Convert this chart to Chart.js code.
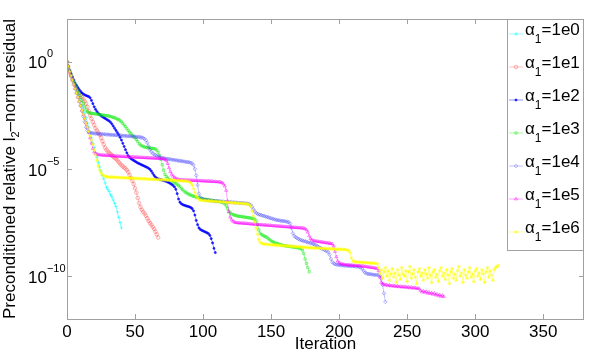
<!DOCTYPE html>
<html><head><meta charset="utf-8">
<script src="https://cdn.jsdelivr.net/npm/chart.js@4/dist/chart.umd.min.js"></script>
<style>html,body{margin:0;padding:0;background:#fff}#wrap{width:598px;height:355px;position:relative}</style>
</head><body><div id="wrap"><canvas id="c" width="598" height="355"></canvas></div>
<script>
// ---- data (values stored as log10 of the residual, one per iteration) ----
const iterationTicks = [0, 50, 100, 150, 200, 250, 300, 350];
const yTickValues = [1, 1e-5, 1e-10];
const yTickExponents = ['0', '\u22125', '\u221210'];
const seriesNames = ['1e0', '1e1', '1e2', '1e3', '1e4', '1e5', '1e6'];

const log10_a1e0 = [0,-0.2,-0.45,-0.65,-0.85,-1,-1.2,-1.35,-1.5,-1.7,-1.85,-2.05,-2.2,-2.4,-2.6,-2.85,-3.05,-3.3,-3.55,-3.8,-4,-4.25,-4.45,-4.7,-4.9,-5.1,-5.3,-5.45,-5.65,-5.85,-5.95,-6.05,-6.2,-6.3,-6.45,-6.6,-6.75,-7,-7.25,-7.5,-7.75];

const log10_a1e1 = [0,-0.35,-0.5,-0.65,-0.8,-0.95,-1.1,-1.2,-1.3,-1.45,-1.55,-1.65,-1.75,-1.85,-1.95,-2.1,-2.3,-2.5,-2.65,-2.8,-2.95,-3.1,-3.2,-3.3,-3.4,-3.55,-3.7,-3.85,-4,-4.1,-4.18,-4.25,-4.3,-4.36,-4.42,-4.48,-4.53,-4.6,-4.68,-4.75,-4.82,-4.88,-4.93,-4.98,-5.05,-5.15,-5.28,-5.42,-5.55,-5.7,-5.9,-6.1,-6.35,-6.6,-6.78,-6.9,-7,-7.08,-7.18,-7.3,-7.42,-7.52,-7.6,-7.7,-7.8,-7.92,-8.05,-8.2];

const log10_a1e2 = [0,-0.2,-0.4,-0.55,-0.7,-0.85,-1,-1.1,-1.2,-1.3,-1.38,-1.45,-1.5,-1.54,-1.57,-1.6,-1.62,-1.68,-1.8,-1.95,-2.1,-2.22,-2.32,-2.4,-2.46,-2.52,-2.56,-2.6,-2.64,-2.68,-2.72,-2.76,-2.82,-2.9,-3,-3.1,-3.2,-3.3,-3.4,-3.52,-3.65,-3.8,-3.95,-4.1,-4.25,-4.38,-4.46,-4.52,-4.56,-4.6,-4.64,-4.68,-4.72,-4.75,-4.78,-4.81,-4.84,-4.87,-4.9,-4.93,-4.97,-5.02,-5.1,-5.2,-5.3,-5.38,-5.43,-5.46,-5.48,-5.5,-5.52,-5.54,-5.56,-5.58,-5.61,-5.64,-5.68,-5.72,-5.77,-5.84,-5.95,-6.15,-6.4,-6.55,-6.62,-6.66,-6.69,-6.71,-6.73,-6.75,-6.77,-6.8,-6.85,-6.95,-7.15,-7.4,-7.6,-7.75,-7.82,-7.86,-7.89,-7.92,-7.95,-7.98,-8.02,-8.1,-8.25,-8.45,-8.7,-8.9];

const log10_a1e3 = [0,-0.2,-0.4,-0.6,-0.75,-0.9,-1.05,-1.2,-1.35,-1.5,-1.65,-1.8,-1.95,-2.1,-2.25,-2.33,-2.37,-2.39,-2.4,-2.41,-2.42,-2.43,-2.44,-2.45,-2.46,-2.47,-2.48,-2.49,-2.5,-2.51,-2.52,-2.53,-2.55,-2.57,-2.59,-2.61,-2.64,-2.67,-2.7,-2.74,-2.8,-2.87,-2.95,-3.03,-3.12,-3.2,-3.28,-3.35,-3.42,-3.48,-3.55,-3.63,-3.72,-3.82,-3.88,-3.92,-3.95,-3.97,-3.99,-4,-4.01,-4.02,-4.03,-4.04,-4.05,-4.07,-4.12,-4.22,-4.38,-4.55,-4.8,-5.05,-5.25,-5.35,-5.42,-5.48,-5.52,-5.56,-5.6,-5.64,-5.68,-5.72,-5.77,-5.83,-5.9,-5.97,-6.03,-6.08,-6.12,-6.16,-6.19,-6.22,-6.25,-6.27,-6.29,-6.31,-6.33,-6.35,-6.37,-6.39,-6.4,-6.41,-6.42,-6.43,-6.44,-6.45,-6.46,-6.47,-6.48,-6.49,-6.5,-6.51,-6.52,-6.53,-6.55,-6.58,-6.63,-6.72,-6.85,-6.97,-7.05,-7.1,-7.13,-7.15,-7.17,-7.19,-7.2,-7.21,-7.22,-7.23,-7.24,-7.25,-7.26,-7.27,-7.28,-7.29,-7.3,-7.32,-7.35,-7.42,-7.6,-7.85,-8,-8.06,-8.1,-8.13,-8.16,-8.2,-8.25,-8.3,-8.35,-8.39,-8.42,-8.45,-8.47,-8.49,-8.51,-8.53,-8.55,-8.57,-8.58,-8.59,-8.6,-8.61,-8.62,-8.63,-8.64,-8.65,-8.66,-8.67,-8.68,-8.7,-8.72,-8.78,-8.95,-9.2,-9.4,-9.6,-9.8];

const log10_a1e4 = [0,-0.2,-0.45,-0.65,-0.85,-1.05,-1.25,-1.45,-1.65,-1.85,-2.05,-2.3,-2.55,-2.8,-3.05,-3.2,-3.27,-3.3,-3.32,-3.33,-3.34,-3.35,-3.35,-3.36,-3.36,-3.37,-3.37,-3.38,-3.38,-3.39,-3.39,-3.4,-3.4,-3.41,-3.41,-3.42,-3.42,-3.43,-3.43,-3.44,-3.44,-3.45,-3.45,-3.46,-3.46,-3.47,-3.47,-3.48,-3.48,-3.49,-3.49,-3.5,-3.5,-3.51,-3.52,-3.53,-3.55,-3.59,-3.66,-3.78,-3.95,-4.1,-4.2,-4.27,-4.32,-4.36,-4.39,-4.42,-4.44,-4.46,-4.48,-4.5,-4.51,-4.52,-4.53,-4.54,-4.55,-4.56,-4.57,-4.58,-4.59,-4.6,-4.61,-4.62,-4.63,-4.64,-4.65,-4.66,-4.67,-4.68,-4.69,-4.71,-4.74,-4.82,-5,-5.3,-5.75,-6.15,-6.32,-6.38,-6.41,-6.43,-6.44,-6.45,-6.46,-6.47,-6.48,-6.48,-6.49,-6.49,-6.5,-6.5,-6.51,-6.51,-6.52,-6.52,-6.53,-6.53,-6.54,-6.54,-6.55,-6.55,-6.56,-6.56,-6.57,-6.57,-6.58,-6.58,-6.59,-6.59,-6.6,-6.6,-6.61,-6.62,-6.64,-6.68,-6.76,-6.88,-6.98,-7.05,-7.09,-7.12,-7.14,-7.16,-7.18,-7.2,-7.22,-7.24,-7.26,-7.28,-7.3,-7.32,-7.34,-7.36,-7.38,-7.39,-7.4,-7.41,-7.42,-7.43,-7.44,-7.45,-7.46,-7.48,-7.55,-7.75,-8,-8.12,-8.18,-8.22,-8.26,-8.29,-8.32,-8.34,-8.36,-8.38,-8.4,-8.42,-8.44,-8.46,-8.48,-8.5,-8.53,-8.56,-8.6,-8.64,-8.68,-8.71,-8.74,-8.77,-8.8,-8.83,-8.88,-9,-9.2,-9.35,-9.41,-9.44,-9.46,-9.47,-9.48,-9.49,-9.5,-9.5,-9.51,-9.51,-9.52,-9.52,-9.53,-9.53,-9.54,-9.54,-9.55,-9.55,-9.56,-9.57,-9.6,-9.66,-9.75,-9.83,-9.87,-9.89,-9.9,-9.91,-9.92,-9.93,-9.94,-9.94,-9.95,-9.96,-9.98,-10.1,-10.4,-10.8,-11.2];

const log10_a1e5 = [0,-0.2,-0.45,-0.65,-0.85,-1.05,-1.25,-1.45,-1.65,-1.85,-2.05,-2.25,-2.45,-2.65,-2.85,-3.05,-3.3,-3.55,-3.8,-4.05,-4.2,-4.28,-4.31,-4.33,-4.34,-4.35,-4.35,-4.36,-4.36,-4.37,-4.37,-4.38,-4.38,-4.39,-4.39,-4.4,-4.4,-4.4,-4.41,-4.41,-4.42,-4.42,-4.42,-4.43,-4.43,-4.43,-4.44,-4.44,-4.44,-4.45,-4.45,-4.45,-4.46,-4.46,-4.46,-4.47,-4.47,-4.47,-4.48,-4.48,-4.48,-4.49,-4.49,-4.49,-4.5,-4.5,-4.5,-4.51,-4.51,-4.52,-4.52,-4.53,-4.55,-4.6,-4.75,-4.95,-5.12,-5.25,-5.34,-5.4,-5.44,-5.47,-5.49,-5.5,-5.5,-5.51,-5.51,-5.52,-5.52,-5.52,-5.53,-5.53,-5.53,-5.54,-5.54,-5.54,-5.55,-5.55,-5.55,-5.56,-5.56,-5.56,-5.57,-5.57,-5.57,-5.58,-5.58,-5.58,-5.59,-5.59,-5.6,-5.6,-5.61,-5.62,-5.64,-5.7,-5.8,-6,-6.5,-7,-7.25,-7.38,-7.44,-7.48,-7.5,-7.51,-7.52,-7.52,-7.53,-7.53,-7.54,-7.54,-7.55,-7.55,-7.56,-7.57,-7.57,-7.58,-7.58,-7.59,-7.59,-7.6,-7.6,-7.61,-7.61,-7.62,-7.62,-7.63,-7.63,-7.64,-7.64,-7.65,-7.65,-7.66,-7.66,-7.67,-7.67,-7.68,-7.68,-7.69,-7.69,-7.7,-7.7,-7.71,-7.71,-7.72,-7.72,-7.73,-7.73,-7.74,-7.74,-7.75,-7.75,-7.76,-7.77,-7.79,-7.84,-7.95,-8.12,-8.25,-8.31,-8.34,-8.36,-8.37,-8.38,-8.39,-8.4,-8.41,-8.42,-8.43,-8.44,-8.45,-8.46,-8.47,-8.48,-8.5,-8.6,-8.85,-9.1,-9.3,-9.38,-9.42,-9.44,-9.45,-9.46,-9.47,-9.48,-9.48,-9.49,-9.49,-9.5,-9.5,-9.51,-9.51,-9.52,-9.52,-9.53,-9.53,-9.54,-9.55,-9.56,-9.57,-9.58,-9.59,-9.6,-9.61,-9.62,-9.63,-9.65,-9.75,-10.05,-10.3,-10.36,-10.38,-10.42,-10.4,-10.45,-10.42,-10.46,-10.44,-10.47,-10.45,-10.49,-10.46,-10.5,-10.48,-10.51,-10.49,-10.52,-10.5,-10.53,-10.51,-10.55,-10.52,-10.56,-10.54,-10.55,-10.58,-10.56,-10.6,-10.68,-10.74,-10.7,-10.76,-10.72,-10.8,-10.75,-10.82,-10.78,-10.85,-10.8,-10.88,-10.84,-10.92,-10.87,-10.95,-10.9,-10.96];

const log10_a1e6 = [0,-0.2,-0.45,-0.65,-0.85,-1.05,-1.25,-1.45,-1.65,-1.85,-2.05,-2.25,-2.45,-2.65,-2.85,-3.05,-3.25,-3.45,-3.65,-3.85,-4.1,-4.35,-4.6,-4.85,-5.05,-5.18,-5.26,-5.31,-5.34,-5.36,-5.37,-5.37,-5.38,-5.38,-5.38,-5.39,-5.39,-5.39,-5.4,-5.4,-5.4,-5.41,-5.41,-5.41,-5.42,-5.42,-5.42,-5.43,-5.43,-5.43,-5.44,-5.44,-5.44,-5.45,-5.45,-5.45,-5.46,-5.46,-5.46,-5.47,-5.47,-5.47,-5.48,-5.48,-5.48,-5.49,-5.49,-5.49,-5.5,-5.5,-5.5,-5.51,-5.51,-5.51,-5.52,-5.52,-5.52,-5.53,-5.53,-5.53,-5.54,-5.54,-5.54,-5.55,-5.55,-5.55,-5.56,-5.56,-5.57,-5.58,-5.6,-5.65,-5.75,-5.92,-6.1,-6.25,-6.36,-6.42,-6.45,-6.46,-6.47,-6.47,-6.48,-6.48,-6.49,-6.49,-6.5,-6.5,-6.51,-6.51,-6.52,-6.52,-6.53,-6.53,-6.54,-6.54,-6.55,-6.55,-6.56,-6.56,-6.57,-6.57,-6.58,-6.58,-6.59,-6.59,-6.6,-6.6,-6.61,-6.61,-6.62,-6.62,-6.63,-6.64,-6.67,-6.75,-6.95,-7.2,-7.45,-7.75,-8.05,-8.3,-8.42,-8.47,-8.49,-8.5,-8.51,-8.52,-8.52,-8.53,-8.53,-8.54,-8.54,-8.55,-8.55,-8.56,-8.56,-8.57,-8.57,-8.58,-8.58,-8.59,-8.59,-8.6,-8.6,-8.61,-8.61,-8.62,-8.62,-8.63,-8.63,-8.64,-8.64,-8.65,-8.65,-8.66,-8.66,-8.67,-8.67,-8.68,-8.68,-8.68,-8.69,-8.69,-8.69,-8.7,-8.7,-8.7,-8.71,-8.71,-8.71,-8.72,-8.72,-8.72,-8.73,-8.73,-8.73,-8.74,-8.74,-8.74,-8.75,-8.75,-8.75,-8.76,-8.76,-8.77,-8.78,-8.8,-8.9,-9.15,-9.28,-9.32,-9.33,-9.34,-9.34,-9.35,-9.35,-9.36,-9.36,-9.37,-9.37,-9.38,-9.38,-9.39,-9.39,-9.4,-9.4,-9.41,-9.42,-9.6,-9.9,-9.7,-10.1,-9.8,-9.6,-10,-9.75,-10.2,-9.9,-9.65,-10.05,-9.85,-10.3,-9.7,-9.95,-10.15,-9.6,-9.9,-10,-9.75,-10.25,-9.8,-9.55,-10.1,-9.9,-9.7,-10.05,-10.35,-9.8,-9.65,-10,-9.85,-10.2,-9.7,-9.9,-10.1,-9.6,-9.95,-10.3,-9.8,-9.7,-10.05,-9.9,-10.25,-9.75,-9.6,-10,-9.85,-10.15,-9.7,-9.95,-10.35,-9.8,-9.65,-10.1,-9.9,-10.2,-9.75,-9.55,-10,-9.85,-10.3,-9.7,-9.95,-10.1,-9.8,-9.6,-10.05,-9.9,-10.25,-9.75,-9.65,-10,-9.85,-10.15,-9.7,-9.9,-10.3,-9.8,-9.6,-10.05,-9.75,-9.95,-10.2,-9.7,-9.6,-9.55,-9.5];

const seriesLog10 = [log10_a1e0, log10_a1e1, log10_a1e2, log10_a1e3, log10_a1e4, log10_a1e5, log10_a1e6];

// ---- styles ----
const colors = ['rgba(0,255,255,0.85)', 'rgba(255,70,70,0.7)', 'rgba(0,0,255,0.85)', 'rgba(0,235,0,0.75)', 'rgba(50,50,255,0.6)', 'rgba(255,0,255,0.75)', 'rgba(255,255,0,0.85)'];
const markers = ['cross', 'circle', 'circle', 'rect', 'rectRot', 'triangle', 'star'];
const markerRadius = [1.8, 1.8, 1.1, 1.6, 1.8, 1.8, 1.8];
const FONT = '"Liberation Sans", Arial, Helvetica, sans-serif';

const datasets = seriesLog10.map((arr, i) => ({
  label: '\u03b1\u2081=' + seriesNames[i],
  data: arr.map((v, k) => ({ x: k, y: Math.pow(10, v) })),
  borderColor: colors[i],
  backgroundColor: i === 2 ? colors[i] : 'rgba(0,0,0,0)',
  pointBorderColor: colors[i],
  pointBackgroundColor: i === 2 ? colors[i] : 'rgba(0,0,0,0)',
  borderWidth: 0.5,
  pointBorderWidth: 0.6,
  pointStyle: markers[i],
  pointRadius: markerRadius[i],
  showLine: true,
  tension: 0,
  order: 6 - i
}));

const decor = {
  id: 'decor',
  afterDatasetsDraw(chart) {
    const { ctx, chartArea: a, scales } = chart;
    const xs = scales.x, ys = scales.y;
    ctx.save();
    ctx.strokeStyle = '#a0a0a0';
    ctx.lineWidth = 1;
    ctx.strokeRect(a.left + 0.5, a.top + 0.5, a.right - a.left - 1, a.bottom - a.top);
    ctx.beginPath();
    iterationTicks.forEach(t => {
      const px = Math.round(xs.getPixelForValue(t)) + 0.5;
      ctx.moveTo(px, a.bottom); ctx.lineTo(px, a.bottom - 5);
      ctx.moveTo(px, a.top); ctx.lineTo(px, a.top + 5);
    });
    yTickValues.forEach(v => {
      const py = Math.round(ys.getPixelForValue(v)) + 0.5;
      ctx.moveTo(a.left, py); ctx.lineTo(a.left + 5, py);
      ctx.moveTo(a.right, py); ctx.lineTo(a.right - 5, py);
    });
    ctx.stroke();
    ctx.fillStyle = '#000';
    ctx.textBaseline = 'alphabetic';
    ctx.textAlign = 'left';
    yTickValues.forEach((v, i) => {
      const py = ys.getPixelForValue(v);
      ctx.font = '17px ' + FONT;
      ctx.fillText('10', 28, py + 6.5);
      const w = ctx.measureText('10').width;
      ctx.font = '11px ' + FONT;
      ctx.fillText(yTickExponents[i], 28 + w, py - 4.5);
    });
    const p1 = 'Preconditioned relative l', sub = '2', p2 = '\u2013norm residual';
    ctx.font = '17px ' + FONT;
    const w1 = ctx.measureText(p1).width, w2 = ctx.measureText(p2).width;
    ctx.font = '11px ' + FONT;
    const ws = ctx.measureText(sub).width;
    const total = w1 + ws + w2;
    ctx.translate(15, (a.top + a.bottom) / 2);
    ctx.rotate(-Math.PI / 2);
    let x0 = -total / 2;
    ctx.font = '17px ' + FONT;
    ctx.fillText(p1, x0, 0);
    ctx.font = '11px ' + FONT;
    ctx.fillText(sub, x0 + w1, 4);
    ctx.font = '17px ' + FONT;
    ctx.fillText(p2, x0 + w1 + ws, 0);
    ctx.restore();
  },
  afterDraw(chart) {
    const { ctx, chartArea: a } = chart;
    ctx.save();
    const L = 507, T = a.top, R = a.right, B = 250;
    ctx.fillStyle = '#fff';
    ctx.fillRect(L, T, R - L, B - T);
    ctx.strokeStyle = '#a0a0a0';
    ctx.lineWidth = 1;
    ctx.strokeRect(L + 0.5, T + 0.5, R - L - 1, B - T);
    seriesNames.forEach((n, i) => {
      const cy = T + 11 + 33 * i;
      ctx.strokeStyle = colors[i];
      ctx.lineWidth = 0.5;
      ctx.beginPath(); ctx.moveTo(509, cy + 4); ctx.lineTo(523, cy + 4); ctx.stroke();
      ctx.fillStyle = i === 2 ? colors[i] : 'rgba(0,0,0,0)';
      ctx.lineWidth = 0.6;
      Chart.helpers.drawPoint(ctx, { pointStyle: markers[i], radius: markerRadius[i], rotation: 0, borderWidth: 0.6 }, 516, cy + 4);
      ctx.fillStyle = '#000';
      ctx.textBaseline = 'alphabetic';
      ctx.textAlign = 'left';
      ctx.font = '17px ' + FONT;
      ctx.fillText('\u03b1', 525, cy + 5);
      const wa = ctx.measureText('\u03b1').width;
      ctx.font = '12px ' + FONT;
      ctx.fillText('1', 525 + wa, cy + 13);
      const w1 = ctx.measureText('1').width;
      ctx.font = '17px ' + FONT;
      ctx.fillText('=' + n, 525 + wa + w1, cy + 5);
    });
    ctx.restore();
  }
};

new Chart(document.getElementById('c'), {
  type: 'scatter',
  data: { datasets },
  options: {
    responsive: false,
    devicePixelRatio: 1,
    animation: false,
    layout: { padding: { top: 19, right: 14, left: 0, bottom: 0 } },
    plugins: { legend: { display: false }, tooltip: { enabled: false } },
    scales: {
      x: {
        type: 'linear', min: 0, max: 380,
        afterFit: s => { s.height = 36; },
        afterBuildTicks: s => { s.ticks = iterationTicks.map(v => ({ value: v })); },
        grid: { display: false, drawTicks: false },
        border: { display: false },
        ticks: { color: '#000', font: { family: FONT, size: 17 }, padding: 3, maxRotation: 0, includeBounds: false, callback: v => String(v) },
        title: { display: true, text: 'Iteration', color: '#000', font: { family: FONT, size: 17 }, padding: { top: 0, bottom: 0 } }
      },
      y: {
        type: 'logarithmic', min: 1e-12, max: 1e2,
        afterFit: s => { s.width = 67; },
        grid: { display: false, drawTicks: false },
        border: { display: false },
        ticks: { display: false }
      }
    }
  },
  plugins: [decor]
});
</script>
</body></html>
